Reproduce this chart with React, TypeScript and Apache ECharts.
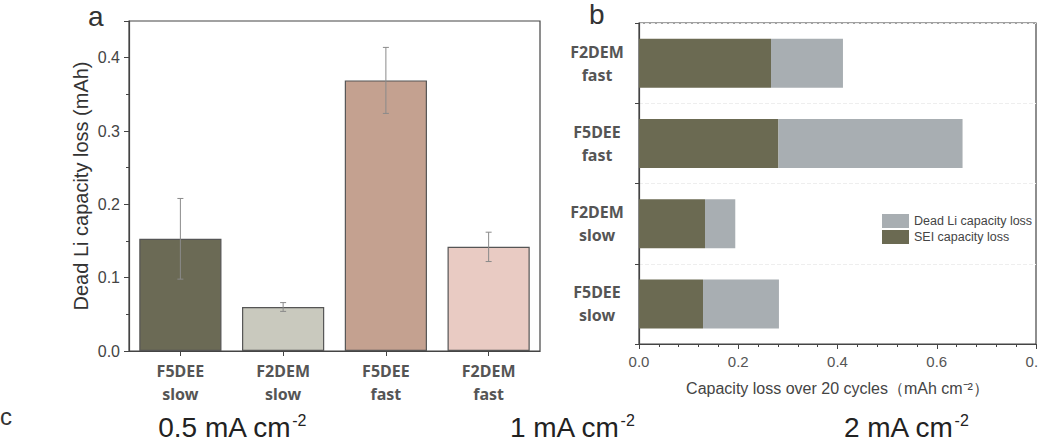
import React, { useEffect, useRef } from "react";
import * as echarts from "echarts";

const catsA = ["F5DEE\nslow", "F2DEM\nslow", "F5DEE\nfast", "F2DEM\nfast"];
const valuesA = [0.153, 0.06, 0.369, 0.142];
const errorsA = [0.055, 0.006, 0.045, 0.02];
const colorsA = ["#6b6a55", "#c9c9be", "#c4a190", "#e9cbc3"];
const ticksA = ["0.0", "0.1", "0.2", "0.3", "0.4"];

const catsB = ["F5DEE\nslow", "F2DEM\nslow", "F5DEE\nfast", "F2DEM\nfast"];
const seiB = [0.129, 0.133, 0.281, 0.266];
const deadB = [0.153, 0.061, 0.371, 0.145];

const rateLabels = ["0.5 mA cm", "1 mA cm", "2 mA cm"];

export default function App() {
  const ref = useRef<HTMLDivElement>(null);
  useEffect(() => {
    document.body.style.margin = "0";
    const chart = echarts.init(ref.current!, null, { renderer: "svg" });
    const sans = "Liberation Sans, Arial, sans-serif";
    const bold = "Noto Sans, Open Sans, sans-serif";
    const errData = valuesA.map((v, i) => [i, v - errorsA[i], v + errorsA[i]]);
    const rateX = [232, 572, 906];
    const option: any = {
      animation: false,
      backgroundColor: "#ffffff",
      textStyle: { fontFamily: sans },
      grid: [
        { left: 129, top: 21, width: 411, height: 330, show: true, borderColor: "#444", borderWidth: 1.2, backgroundColor: "transparent", outerBoundsMode: "none", containLabel: false },
        { left: 639, top: 23, width: 397, height: 321, show: true, borderColor: "#444", borderWidth: 1.2, backgroundColor: "transparent", outerBoundsMode: "none", containLabel: false },
      ],
      legend: {
        data: ["Dead Li capacity loss", "SEI capacity loss"],
        orient: "vertical",
        left: 877,
        top: 209,
        itemWidth: 27,
        itemHeight: 14,
        itemGap: 2,
        icon: "rect",
        textStyle: { fontFamily: sans, fontSize: 12.5, color: "#444" },
      },
      xAxis: [
        {
          type: "category",
          gridIndex: 0,
          data: catsA,
          axisLine: { lineStyle: { color: "#444", width: 1.2 } },
          axisTick: { show: true, alignWithLabel: true, length: 5, inside: false, lineStyle: { color: "#444" } },
          axisLabel: { fontFamily: bold, fontWeight: "bold", fontSize: 16, color: "#555", lineHeight: 23, margin: 8 },
        },
        {
          type: "value",
          gridIndex: 1,
          min: 0,
          max: 0.8,
          interval: 0.2,
          axisLine: { show: true, lineStyle: { color: "#444", width: 1.2 } },
          axisTick: { show: true, length: 5, lineStyle: { color: "#444" } },
          minorTick: { show: true, splitNumber: 5, length: 3, lineStyle: { color: "#444" } },
          splitLine: { show: false },
          axisLabel: { fontSize: 15, color: "#555", margin: 10, formatter: (v: number) => v.toFixed(1) },
          name: "Capacity loss over 20 cycles（mAh cm⁻²）",
          nameLocation: "middle",
          nameGap: 36,
          nameTextStyle: { fontSize: 16, color: "#444", fontFamily: sans },
        },
      ],
      yAxis: [
        {
          type: "value",
          gridIndex: 0,
          min: 0,
          max: 0.45,
          interval: 0.1,
          axisLine: { show: true, lineStyle: { color: "#444", width: 1.2 } },
          axisTick: { show: true, length: 5, lineStyle: { color: "#444" } },
          minorTick: { show: true, splitNumber: 2, length: 3, lineStyle: { color: "#444" } },
          splitLine: { show: false },
          axisLabel: {
            fontSize: 16,
            color: "#444",
            margin: 9,
            formatter: (v: number) => {
              const s = v.toFixed(1);
              return ticksA.indexOf(s) >= 0 && Math.abs(v * 10 - Math.round(v * 10)) < 1e-6 ? s : "";
            },
          },
          name: "Dead Li capacity loss (mAh)",
          nameLocation: "middle",
          nameGap: 38,
          nameTextStyle: { fontSize: 20, color: "#333", fontFamily: sans },
        },
        {
          type: "category",
          gridIndex: 1,
          data: catsB,
          axisLine: { lineStyle: { color: "#444", width: 1.2 } },
          axisTick: { show: true, length: 4, lineStyle: { color: "#444" } },
          splitLine: { show: true, lineStyle: { color: "#eeeeee", width: 1, type: "dashed" } },
          axisLabel: { fontFamily: bold, fontWeight: "bold", fontSize: 16, color: "#555", lineHeight: 23, margin: 42, align: "center" },
        },
      ],
      series: [
        {
          type: "bar",
          xAxisIndex: 0,
          yAxisIndex: 0,
          barCategoryGap: "20%",
          data: valuesA.map((v, i) => ({
            value: v,
            itemStyle: { color: colorsA[i], borderColor: "#555", borderWidth: 1.2 },
          })),
        },
        {
          type: "custom",
          xAxisIndex: 0,
          yAxisIndex: 0,
          data: errData,
          z: 10,
          renderItem: (params: any, api: any) => {
            const x = api.value(0);
            const lo = api.coord([x, api.value(1)]);
            const hi = api.coord([x, api.value(2)]);
            const w = 3;
            const style = { stroke: "#8a8a8a", lineWidth: 1 };
            return {
              type: "group",
              children: [
                { type: "line", shape: { x1: hi[0], y1: hi[1], x2: lo[0], y2: lo[1] }, style },
                { type: "line", shape: { x1: hi[0] - w, y1: hi[1], x2: hi[0] + w, y2: hi[1] }, style },
                { type: "line", shape: { x1: lo[0] - w, y1: lo[1], x2: lo[0] + w, y2: lo[1] }, style },
              ],
            };
          },
        },
        {
          name: "SEI capacity loss",
          type: "bar",
          stack: "b",
          xAxisIndex: 1,
          yAxisIndex: 1,
          barWidth: 49,
          itemStyle: { color: "#6b6a52" },
          data: seiB,
        },
        {
          name: "Dead Li capacity loss",
          type: "bar",
          stack: "b",
          xAxisIndex: 1,
          yAxisIndex: 1,
          barWidth: 49,
          itemStyle: { color: "#a8aeb2" },
          data: deadB,
        },
      ],
      graphic: [
        { type: "text", left: 88, top: 2, style: { text: "a", fontSize: 28, fill: "#333", fontFamily: sans } },
        { type: "text", left: 589, top: 0, style: { text: "b", fontSize: 28, fill: "#333", fontFamily: sans } },
        { type: "text", left: 0, top: 404, style: { text: "c", fontSize: 24, fill: "#333", fontFamily: sans } },
        ...rateLabels.map((t, i) => ({
          type: "text",
          x: rateX[i],
          y: 427,
          style: {
            text: `{m|${t}}{s|-2}`,
            align: "center",
            verticalAlign: "middle",
            rich: {
              m: { fontSize: 28, fill: "#222", fontFamily: sans },
              s: { fontSize: 16, fill: "#222", fontFamily: sans, verticalAlign: "top", padding: [0, 0, 14, 1] },
            },
          },
        })),
      ],
    };
    chart.setOption(option);
    return () => chart.dispose();
  }, []);
  return <div ref={ref} style={{ width: 1038, height: 441 }} />;
}
